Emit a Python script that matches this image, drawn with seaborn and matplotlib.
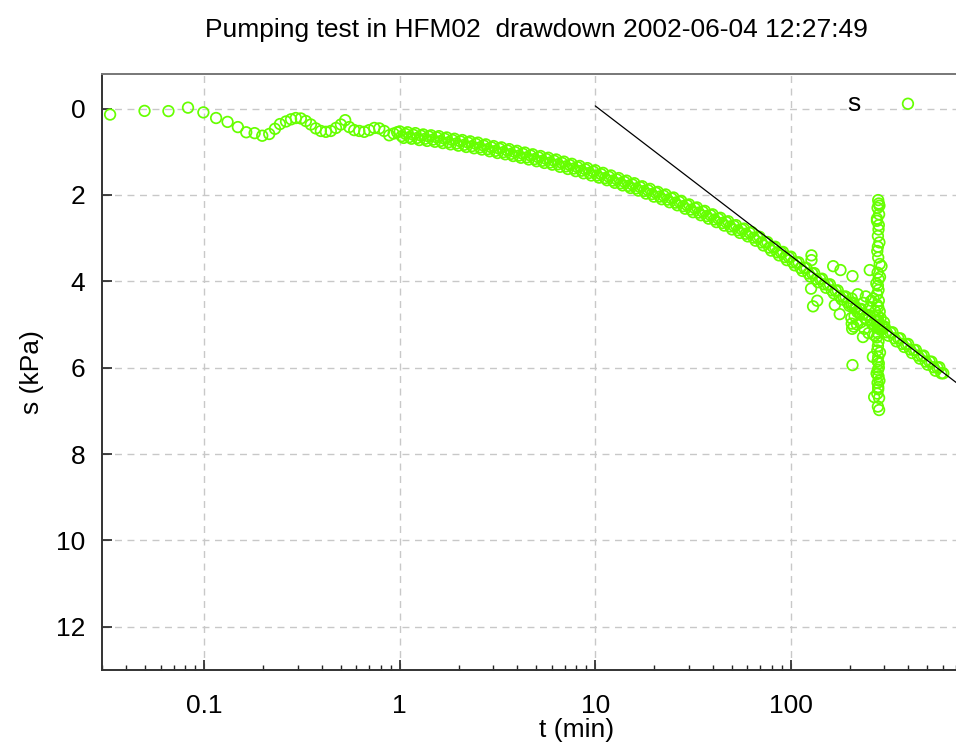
import numpy as np
import pandas as pd
import matplotlib
matplotlib.use("Agg")
import matplotlib.pyplot as plt
import matplotlib.ticker as mticker
import seaborn as sns

# ---------------- data ----------------
# early-time points (t in min, s in kPa)
t_early = [0.033, 0.0495, 0.0656, 0.0826, 0.099, 0.115, 0.1316, 0.1486, 0.164, 0.181,
           0.198, 0.215, 0.230, 0.244, 0.262, 0.278, 0.294, 0.312, 0.331, 0.351,
           0.372, 0.395, 0.419, 0.444, 0.472, 0.500, 0.526, 0.552, 0.585, 0.621,
           0.658, 0.698, 0.741, 0.786, 0.833, 0.883, 0.93, 0.97]
s_early = [0.14, 0.055, 0.06, -0.02, 0.09, 0.22, 0.31, 0.43, 0.55, 0.57,
           0.63, 0.59, 0.47, 0.36, 0.30, 0.25, 0.22, 0.23, 0.29, 0.37,
           0.46, 0.52, 0.54, 0.52, 0.45, 0.37, 0.27, 0.43, 0.50, 0.52,
           0.54, 0.50, 0.45, 0.46, 0.52, 0.62, 0.58, 0.55]

# main drawdown band, outer edge readings (t in min, s in kPa)
t_main = [1.000, 1.047, 1.096, 1.148, 1.202, 1.259, 1.318, 1.380, 1.445, 1.514,
          1.585, 1.660, 1.738, 1.820, 1.905, 1.995, 2.089, 2.188, 2.291, 2.399,
          2.512, 2.630, 2.754, 2.884, 3.020, 3.162, 3.311, 3.467, 3.631, 3.802,
          3.981, 4.169, 4.365, 4.571, 4.786, 5.012, 5.248, 5.495, 5.754, 6.026,
          6.310, 6.607, 6.918, 7.244, 7.586, 7.943, 8.318, 8.710, 9.120, 9.550,
          10.00, 10.47, 10.96, 11.48, 12.02, 12.59, 13.18, 13.80, 14.45, 15.14,
          15.85, 16.60, 17.38, 18.20, 19.05, 19.95, 20.89, 21.88, 22.91, 23.99,
          25.12, 26.30, 27.54, 28.84, 30.20, 31.62, 33.11, 34.67, 36.31, 38.02,
          39.81, 41.69, 43.65, 45.71, 47.86, 50.12, 52.48, 54.95, 57.54, 60.26,
          63.10, 66.07, 69.18, 72.44, 75.86, 79.43, 83.18, 87.10, 91.20, 95.50,
          100.0, 104.7, 109.6, 114.8, 120.2, 125.9, 131.8, 138.0, 144.5, 151.4,
          158.5, 166.0, 173.8, 182.0, 190.5, 199.5, 208.9, 218.8, 229.1, 239.9,
          251.2, 263.0, 275.4, 288.4, 302.0, 316.2, 331.1, 346.7, 363.1, 380.2,
          398.1, 416.9, 436.5, 457.1, 478.6, 501.2, 524.8, 549.5, 575.4, 602.6]
s_main = [0.53, 0.68, 0.55, 0.70, 0.57, 0.73, 0.60, 0.75, 0.62, 0.77,
          0.64, 0.80, 0.67, 0.83, 0.70, 0.86, 0.73, 0.89, 0.76, 0.92,
          0.79, 0.95, 0.83, 0.99, 0.87, 1.03, 0.90, 1.06, 0.94, 1.10,
          0.98, 1.14, 1.02, 1.18, 1.06, 1.22, 1.10, 1.26, 1.14, 1.30,
          1.18, 1.35, 1.23, 1.40, 1.28, 1.45, 1.33, 1.50, 1.38, 1.55,
          1.43, 1.60, 1.49, 1.66, 1.55, 1.72, 1.61, 1.78, 1.67, 1.84,
          1.73, 1.90, 1.80, 1.97, 1.86, 2.04, 1.93, 2.10, 1.99, 2.17,
          2.06, 2.24, 2.14, 2.32, 2.22, 2.40, 2.29, 2.47, 2.37, 2.55,
          2.45, 2.63, 2.53, 2.71, 2.61, 2.80, 2.70, 2.88, 2.78, 2.96,
          2.86, 3.06, 2.97, 3.17, 3.09, 3.29, 3.20, 3.40, 3.32, 3.51,
          3.43, 3.63, 3.56, 3.76, 3.69, 3.89, 3.81, 4.02, 3.94, 4.15,
          4.07, 4.28, 4.21, 4.42, 4.35, 4.57, 4.50, 4.71, 4.64, 4.85,
          4.78, 4.99, 4.91, 5.12, 5.05, 5.26, 5.18, 5.39, 5.32, 5.52,
          5.45, 5.66, 5.59, 5.79, 5.72, 5.93, 5.86, 6.07, 5.99, 6.13]

# main drawdown band, inner readings (t in min, s in kPa)
t_inner = [1.023, 1.072, 1.122, 1.175, 1.230, 1.288, 1.349, 1.413, 1.479, 1.549,
           1.622, 1.698, 1.778, 1.862, 1.950, 2.042, 2.138, 2.239, 2.344, 2.455,
           2.570, 2.692, 2.818, 2.951, 3.090, 3.236, 3.388, 3.548, 3.715, 3.890,
           4.074, 4.266, 4.467, 4.677, 4.898, 5.129, 5.370, 5.623, 5.888, 6.166,
           6.457, 6.761, 7.079, 7.413, 7.762, 8.128, 8.511, 8.913, 9.333, 9.772,
           10.23, 10.72, 11.22, 11.75, 12.30, 12.88, 13.49, 14.13, 14.79, 15.49,
           16.22, 16.98, 17.78, 18.62, 19.50, 20.42, 21.38, 22.39, 23.44, 24.55,
           25.70, 26.92, 28.18, 29.51, 30.90, 32.36, 33.88, 35.48, 37.15, 38.90,
           40.74, 42.66, 44.67, 46.77, 48.98, 51.29, 53.70, 56.23, 58.88, 61.66,
           64.57, 67.61, 70.79, 74.13, 77.62, 81.28, 85.11, 89.13, 93.33, 97.72,
           102.3, 107.2, 112.2, 117.5, 123.0, 128.8, 134.9, 141.3, 147.9, 154.9,
           162.2, 169.8, 177.8, 186.2, 195.0, 204.2, 213.8, 223.9, 234.4, 245.5,
           257.0, 269.2, 281.8, 295.1, 309.0, 323.6, 338.8, 354.8, 371.5, 389.0,
           407.4, 426.6, 446.7, 467.7, 489.8, 512.9, 537.0, 562.3, 588.8]
s_inner = [0.64, 0.59, 0.66, 0.61, 0.68, 0.63, 0.70, 0.65, 0.72, 0.67,
           0.75, 0.70, 0.78, 0.73, 0.81, 0.76, 0.84, 0.79, 0.87, 0.82,
           0.90, 0.86, 0.94, 0.90, 0.98, 0.93, 1.01, 0.97, 1.05, 1.01,
           1.09, 1.05, 1.13, 1.09, 1.17, 1.13, 1.21, 1.17, 1.25, 1.21,
           1.29, 1.26, 1.34, 1.31, 1.39, 1.36, 1.44, 1.41, 1.49, 1.46,
           1.55, 1.52, 1.61, 1.58, 1.67, 1.64, 1.73, 1.70, 1.79, 1.76,
           1.85, 1.82, 1.91, 1.89, 1.98, 1.95, 2.04, 2.02, 2.11, 2.08,
           2.18, 2.16, 2.26, 2.24, 2.34, 2.31, 2.41, 2.39, 2.49, 2.47,
           2.57, 2.55, 2.65, 2.63, 2.73, 2.72, 2.82, 2.80, 2.90, 2.88,
           2.99, 2.99, 3.10, 3.10, 3.22, 3.21, 3.33, 3.33, 3.44, 3.44,
           3.56, 3.57, 3.69, 3.69, 3.82, 3.82, 3.95, 3.95, 4.07, 4.08,
           4.21, 4.22, 4.35, 4.36, 4.49, 4.50, 4.63, 4.64, 4.77, 4.78,
           4.91, 4.92, 5.05, 5.05, 5.18, 5.19, 5.32, 5.32, 5.45, 5.46,
           5.58, 5.59, 5.72, 5.73, 5.86, 5.86, 5.99, 6.00, 6.13]

# disturbed period around t ~ 130-300 min (outliers and block)
t_dist = [127.6, 127.6, 127.0, 130.0, 136.6, 164.8, 179.6, 206.8, 178.0, 168.0,
          206.8, 205.0, 234.0, 253.5, 291.0, 263.0, 275.0, 267.0, 283.0,
          205.0, 215.0, 225.0, 235.0, 245.0, 255.0, 262.0, 270.0, 278.0, 288.0,
          296.0, 300.0, 210.0, 220.0, 250.0, 265.0,
          204.0, 204.0, 206.0, 212.0, 218.0, 228.0, 238.0, 242.0, 258.0, 268.0]
s_dist = [3.40, 3.51, 4.17, 4.58, 4.45, 3.65, 3.74, 3.88, 4.76, 4.55,
          5.94, 4.98, 5.29, 3.74, 3.65, 5.75, 6.13, 6.68, 6.98,
          4.40, 4.60, 4.75, 4.50, 4.90, 4.60, 5.00, 4.70, 5.05, 4.85,
          5.10, 4.95, 5.05, 4.30, 5.20, 4.40,
          4.55, 4.85, 5.10, 4.80, 5.00, 4.95, 5.10, 4.35, 4.45, 5.25]

# vertical spike near t ~ 280 min
t_spike = [280.0, 282.0, 278.0, 283.0, 276.0, 281.0, 279.0, 284.0, 277.0, 280.0,
           285.0, 278.0, 281.0, 279.0, 276.0, 282.0, 280.0, 278.0, 283.0, 279.0,
           281.0, 277.0, 280.0, 282.0, 279.0, 281.0, 278.0, 280.0, 283.0, 279.0,
           284.0, 276.0, 282.0, 279.0, 286.0, 274.0, 281.0, 277.0, 285.0, 280.0,
           283.0, 275.0, 279.0, 286.0, 278.0, 282.0, 276.0, 284.0, 280.0, 277.0]
s_spike = [2.12, 2.20, 2.30, 2.45, 2.60, 2.80, 2.95, 3.10, 3.30, 3.45,
           3.60, 3.80, 3.95, 4.10, 4.30, 4.45, 4.60, 4.80, 5.00, 5.20,
           5.40, 5.60, 5.75, 5.90, 6.05, 6.20, 6.35, 6.50, 6.70, 6.90,
           2.25, 2.55, 2.70, 3.20, 3.90, 4.05, 4.20, 4.55, 4.70, 4.90,
           5.10, 5.30, 5.50, 5.65, 5.85, 6.00, 6.15, 6.30, 6.45, 6.60]

# straight-line fit
t_fit = [10.0, 700.0]
s_fit = [-0.06, 6.34]

x_ticks = [0.1, 1, 10, 100]
x_tick_labels = ["0.1", "1", "10", "100"]
y_ticks = [0, 2, 4, 6, 8, 10, 12]

df = pd.DataFrame({"t": t_early + t_main + t_inner + t_dist + t_spike,
                   "s": s_early + s_main + s_inner + s_dist + s_spike})
df_fit = pd.DataFrame({"t": t_fit, "s": s_fit})

# ---------------- style ----------------
sns.set_theme(style="white")
plt.rcParams["font.family"] = ["Liberation Sans", "DejaVu Sans"]
plt.rcParams["text.color"] = "black"
plt.rcParams["axes.labelcolor"] = "black"

lime = "#66ff00"
fig = plt.figure(figsize=(9.56, 7.47), dpi=100)
ax = fig.add_axes([0.1067, 0.103, 0.8933, 0.798])

sns.lineplot(data=df_fit, x="t", y="s", ax=ax, color="black", linewidth=0.9,
             zorder=3, legend=False)
sns.scatterplot(data=df, x="t", y="s", ax=ax, marker="o", s=58,
                facecolors="none", edgecolor=lime, linewidth=1.25, zorder=2,
                label="s")

ax.set_xscale("log")
ax.set_xlim(0.03, 700)
ax.set_ylim(13.0, -0.8)

ax.set_xticks(x_ticks)
ax.set_xticklabels(x_tick_labels)
ax.xaxis.set_minor_locator(mticker.LogLocator(base=10, subs=np.arange(2, 10)))
ax.xaxis.set_minor_formatter(mticker.NullFormatter())
ax.set_yticks(y_ticks)
ax.set_yticklabels([str(v) for v in y_ticks])

ax.tick_params(axis="both", which="major", direction="in", length=7, width=1.2,
               labelsize=19, colors="#222222", labelcolor="black")
ax.tick_params(axis="x", which="major", pad=17, bottom=True)
ax.tick_params(axis="y", which="major", pad=12, left=True)
ax.tick_params(axis="x", which="minor", direction="in", length=3.5, width=1.0,
               colors="#222222", bottom=True)

ax.grid(True, which="major", color="#c8c8c8", linestyle=(0, (5, 4)), linewidth=1.0)
ax.set_axisbelow(True)

for side in ["left", "bottom"]:
    ax.spines[side].set_color("#333333")
    ax.spines[side].set_linewidth(1.4)
ax.spines["top"].set_color("#777777")
ax.spines["top"].set_linewidth(1.4)
ax.spines["right"].set_visible(False)

ax.set_xlabel("t (min)", fontsize=19, color="black")
ax.set_ylabel("s (kPa)", fontsize=19, color="black")
ax.xaxis.set_label_coords(0.556, -0.080)
ax.yaxis.set_label_coords(-0.068, 0.5)

fig.text(0.561, 0.960, "Pumping test in HFM02  drawdown 2002-06-04 12:27:49",
         ha="center", va="center", fontsize=19, color="black")

leg = ax.legend(loc="upper right", bbox_to_anchor=(0.987, 0.988), frameon=False,
                markerfirst=False, fontsize=19, handletextpad=0.8,
                borderaxespad=0)
for txt in leg.get_texts():
    txt.set_color("black")
fig.savefig("out.png", dpi=100)
